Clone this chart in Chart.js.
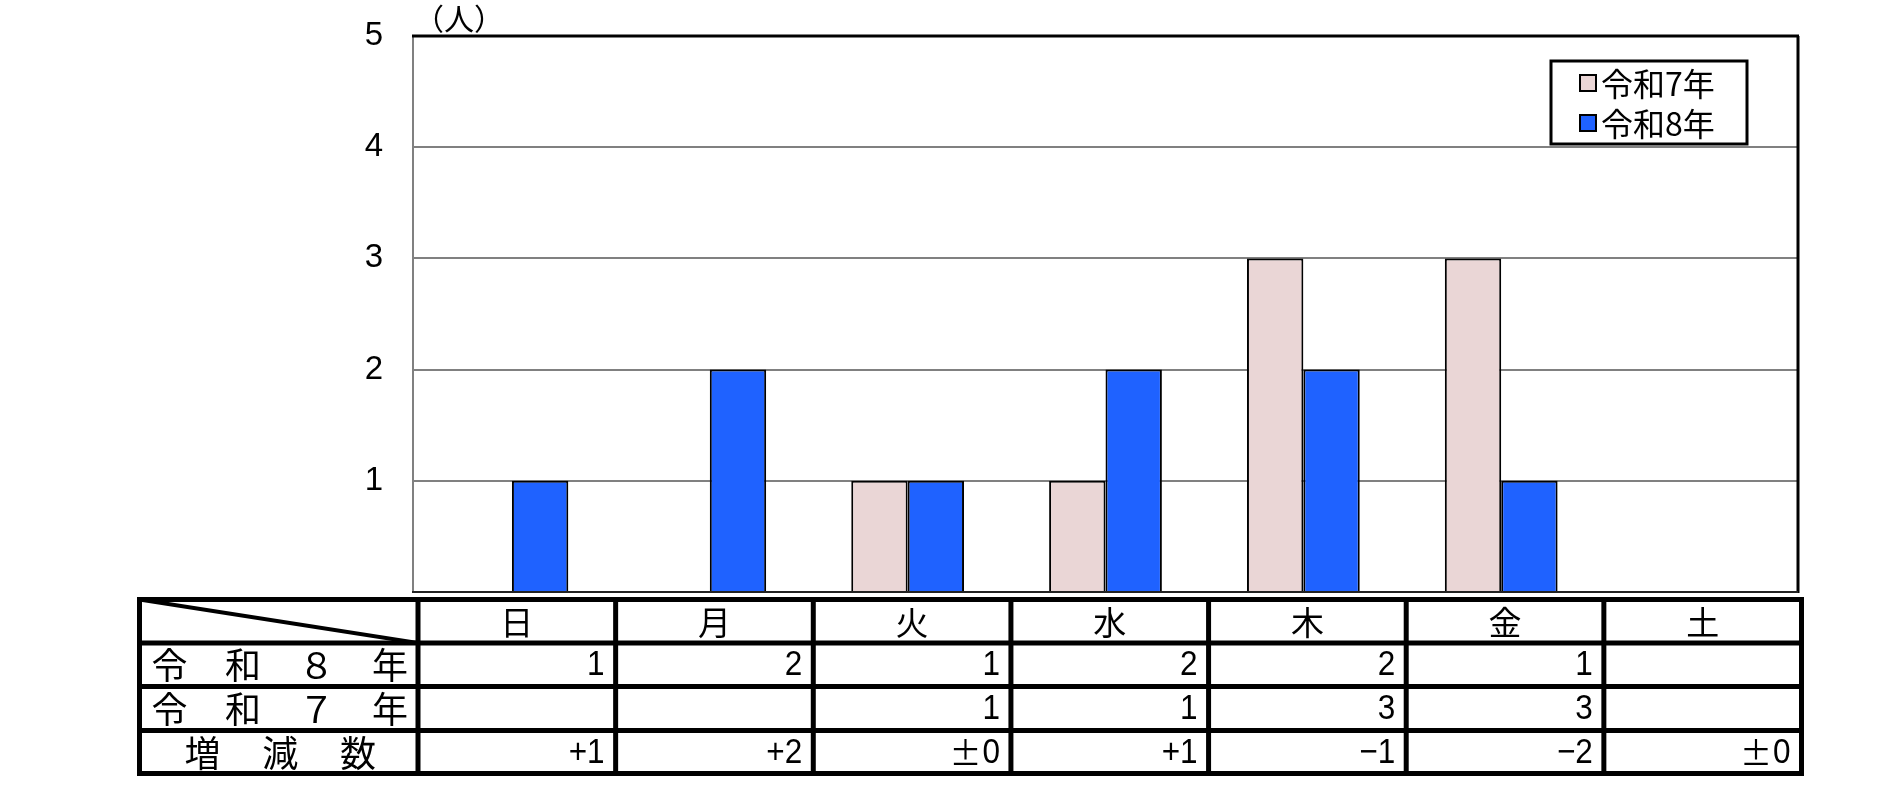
<!DOCTYPE html>
<html>
<head>
<meta charset="utf-8">
<script src="https://cdn.jsdelivr.net/npm/chart.js@4.4.1/dist/chart.umd.min.js"></script>
<style>
  html, body { margin: 0; padding: 0; background: #fff; }
</style>
</head>
<body>
<canvas id="chart" width="1882" height="802"></canvas>
<script>
const days = ['日', '月', '火', '水', '木', '金', '土'];
const seriesNames = ['令和7年', '令和8年'];
const r7 = [null, null, 1, 1, 3, 3, null];
const r8 = [1, 2, 1, 2, 2, 1, null];
const diffText = ['+1', '+2', '±0', '+1', '−1', '−2', '±0'];
const yTicks = [1, 2, 3, 4, 5];
const rowHeads = [['令', '和', '８', '年'], ['令', '和', '７', '年'], ['増', '減', '数']];
const unitLabel = '（人）';

const PINK = '#EAD6D6';
const BLUE = '#1F62FF';
const JP = '"Noto Sans CJK JP", sans-serif';
const NUM = '"Liberation Sans", Arial, sans-serif';

const line = (ctx, x1, y1, x2, y2) => {
    ctx.beginPath();
    ctx.moveTo(x1, y1);
    ctx.lineTo(x2, y2);
    ctx.stroke();
};

// slightly narrow digits, the ± sign drawn full width
const cellText = (ctx, text, xRight, y) => {
    let sign = '';
    if (text[0] === '±') {
        sign = '±';
        text = text.slice(1);
    }
    ctx.save();
    ctx.translate(xRight, y);
    ctx.scale(0.9, 1);
    ctx.textAlign = 'right';
    ctx.fillText(text, 0, 0);
    const w = ctx.measureText(text).width * 0.9;
    ctx.restore();
    if (sign) {
        ctx.save();
        ctx.font = '32px ' + JP;
        ctx.textAlign = 'right';
        ctx.fillText(sign, xRight - w - 1, y);
        ctx.restore();
    }
};

const overlay = {
    id: 'overlay',
    afterDraw: (chart) => {
        const { ctx, chartArea: a } = chart;
        ctx.save();

        // plot frame
        ctx.strokeStyle = '#808080';
        ctx.lineWidth = 2;
        line(ctx, a.left, a.top, a.left, a.bottom);
        ctx.strokeStyle = '#000';
        ctx.lineWidth = 3;
        line(ctx, a.left - 1, a.top, a.right + 1, a.top);
        line(ctx, a.right, a.top, a.right, a.bottom + 1);
        ctx.strokeStyle = '#222';
        ctx.lineWidth = 2;
        line(ctx, a.left - 1, a.bottom, a.right, a.bottom);

        // unit
        ctx.fillStyle = '#000';
        ctx.font = '30px ' + JP;
        ctx.textAlign = 'left';
        ctx.textBaseline = 'middle';
        ctx.fillText(unitLabel, a.left + 1, 19);

        // legend
        const lg = { x: 1551, y: 61, w: 196, h: 83 };
        ctx.fillStyle = '#fff';
        ctx.fillRect(lg.x, lg.y, lg.w, lg.h);
        ctx.strokeStyle = '#000';
        ctx.lineWidth = 3;
        ctx.strokeRect(lg.x, lg.y, lg.w, lg.h);
        chart.data.datasets.forEach((ds, i) => {
            const cy = lg.y + 22 + i * 40;
            ctx.fillStyle = ds.backgroundColor;
            ctx.fillRect(lg.x + 29, cy - 8, 16, 16);
            ctx.lineWidth = 2;
            ctx.strokeRect(lg.x + 29, cy - 8, 16, 16);
            ctx.fillStyle = '#000';
            ctx.font = '32px ' + JP;
            ctx.textAlign = 'left';
            ctx.fillText(ds.label, lg.x + 50, cy + 1);
        });

        // data table
        const t = { left: 139.5, split: 418, right: 1801.5, rows: [599.5, 643, 686.5, 730.5, 773.5] };
        const cw = (t.right - t.split) / days.length;
        ctx.strokeStyle = '#000';
        ctx.lineWidth = 4;
        ctx.save();
        ctx.beginPath();
        ctx.rect(t.left, t.rows[0], t.split - t.left, t.rows[1] - t.rows[0]);
        ctx.clip();
        line(ctx, t.left, t.rows[0], t.split, t.rows[1]);
        ctx.restore();

        ctx.lineWidth = 5;
        t.rows.forEach(y => line(ctx, t.left - 2.5, y, t.right + 2.5, y));
        line(ctx, t.left, t.rows[0], t.left, t.rows[4]);
        for (let i = 0; i <= days.length; i++) {
            line(ctx, t.split + i * cw, t.rows[0], t.split + i * cw, t.rows[4]);
        }

        ctx.fillStyle = '#000';
        ctx.textBaseline = 'middle';
        ctx.textAlign = 'center';
        ctx.font = '33px ' + JP;
        days.forEach((d, i) => {
            ctx.fillText(d, t.split + (i + 0.5) * cw, (t.rows[0] + t.rows[1]) / 2 + 1);
        });

        ctx.font = '36px ' + JP;
        rowHeads.forEach((chars, r) => {
            const n = chars.length;
            const x0 = t.left + (n === 4 ? 30 : 63);
            const x1 = t.split - (n === 4 ? 28 : 60);
            const cy = (t.rows[r + 1] + t.rows[r + 2]) / 2 + 1;
            chars.forEach((c, k) => {
                ctx.fillText(c, x0 + (x1 - x0) * k / (n - 1), cy);
            });
        });

        ctx.font = '35px ' + NUM;
        const rowVals = [
            r8.map(v => v === null ? '' : String(v)),
            r7.map(v => v === null ? '' : String(v)),
            diffText
        ];
        rowVals.forEach((vals, r) => {
            const cy = (t.rows[r + 1] + t.rows[r + 2]) / 2 + 1;
            vals.forEach((v, i) => {
                if (v) cellText(ctx, v, t.split + (i + 1) * cw - 11, cy);
            });
        });

        ctx.restore();
    }
};

new Chart(document.getElementById('chart'), {
    type: 'bar',
    data: {
        labels: days,
        datasets: [{
            label: seriesNames[0],
            data: r7,
            backgroundColor: PINK,
            borderColor: '#000',
            borderWidth: 2,
            categoryPercentage: 0.57,
            barPercentage: 1
        }, {
            label: seriesNames[1],
            data: r8,
            backgroundColor: BLUE,
            borderColor: '#000',
            borderWidth: 2,
            categoryPercentage: 0.57,
            barPercentage: 1
        }]
    },
    options: {
        responsive: false,
        devicePixelRatio: 1,
        animation: false,
        layout: { padding: { left: 0, top: 36, right: 84, bottom: 210 } },
        plugins: {
            legend: { display: false },
            tooltip: { enabled: false }
        },
        scales: {
            x: { display: false },
            y: {
                min: 0,
                max: 5,
                afterFit: (scale) => {
                    scale.width = 413;
                    scale.paddingTop = 0;
                    scale.paddingBottom = 0;
                },
                border: { display: false },
                grid: { color: '#808080', lineWidth: 2, drawTicks: false },
                ticks: {
                    stepSize: 1,
                    padding: 30,
                    color: '#000',
                    font: { family: NUM, size: 33 },
                    callback: (v) => yTicks.includes(v) ? String(v) : ''
                }
            }
        }
    },
    plugins: [overlay]
});
</script>
</body>
</html>
